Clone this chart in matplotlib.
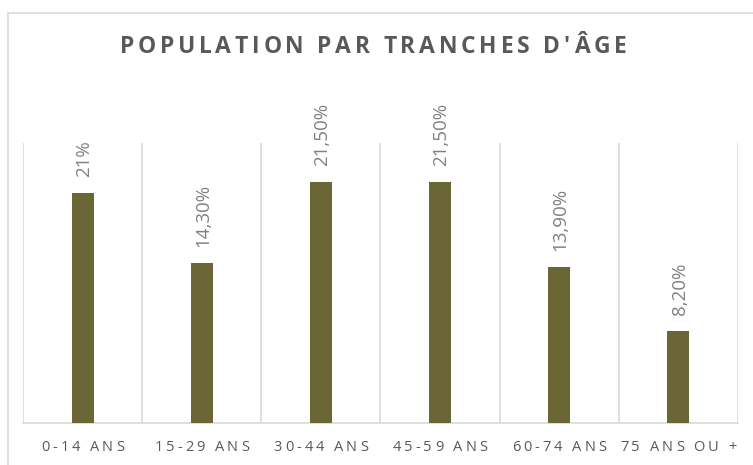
import matplotlib
matplotlib.use('Agg')
import matplotlib.pyplot as plt
from matplotlib.font_manager import FontProperties, findfont, get_font
from matplotlib.patches import Rectangle

categories = ["0-14 ANS", "15-29 ANS", "30-44 ANS", "45-59 ANS", "60-74 ANS", "75 ANS OU +"]
values = [20.5, 14.3, 21.5, 21.5, 13.9, 8.2]
value_labels = ["21%", "14,30%", "21,50%", "21,50%", "13,90%", "8,20%"]
title = "POPULATION PAR TRANCHES D'ÂGE"

W, H = 753, 465
DPI = 100
BAR = '#6B6636'
GRID = '#D9D9D9'

fig = plt.figure(figsize=(W / DPI, H / DPI), dpi=DPI)


def advances(text, fp):
    font = get_font(findfont(fp))
    font.set_size(fp.get_size_in_points(), DPI)
    return [font.load_char(ord(ch)).linearHoriAdvance / 65536 for ch in text]


def spaced_text(text, x_px, y_px, fp, color, spacing=0.0, width=None):
    adv = advances(text, fp)
    n = len(text)
    if width is not None:
        spacing = (width - sum(adv)) / (n - 1)
    total = sum(adv) + spacing * (n - 1)
    x = x_px - total / 2
    for ch, a in zip(text, adv):
        if ch != ' ':
            fig.text((x + a / 2) / W, 1 - y_px / H, ch, fontproperties=fp,
                     color=color, ha='center', va='baseline')
        x += a + spacing


# outer chart frame
fig.add_artist(Rectangle((8 / W, -0.1), 1.2, 1 - 13 / H + 0.1,
                         transform=fig.transFigure, fill=False,
                         edgecolor=GRID, lw=1.2))

ax = fig.add_axes([23 / W, 1 - 423 / H, 715 / W, 280 / H])
x = list(range(len(categories)))
ax.bar(x, values, width=0.185, color=BAR, zorder=3)
ax.set_xlim(-0.5, len(categories) - 0.5)
ax.set_ylim(0, 25)
for b in range(len(categories) + 1):
    ax.axvline(b - 0.5, color=GRID, lw=1.2, zorder=1)
for s in ['top', 'left', 'right']:
    ax.spines[s].set_visible(False)
ax.spines['bottom'].set_color(GRID)
ax.spines['bottom'].set_linewidth(1.2)
ax.set_xticks([])
ax.set_yticks([])
ax.patch.set_alpha(0)

for i, (v, lbl) in enumerate(zip(values, value_labels)):
    ax.annotate(lbl, (i, v), xytext=(1, 11.5), textcoords='offset points',
                rotation=90, ha='center', va='bottom', fontsize=13.5,
                color='#808080', family='Open Sans')

# category labels with letter spacing
tick_fp = FontProperties(family='Open Sans', size=10.5)
for i, c in enumerate(categories):
    cx = 23 + (i + 0.5) * 715 / len(categories)
    spaced_text(c, cx, 451, tick_fp, '#595959', spacing=3.0)

# title with letter spacing
title_fp = FontProperties(family='Open Sans', size=16.5, weight='bold')
spaced_text(title, 373, 53, title_fp, '#595959', width=507)

fig.savefig('out.png', dpi=DPI)
